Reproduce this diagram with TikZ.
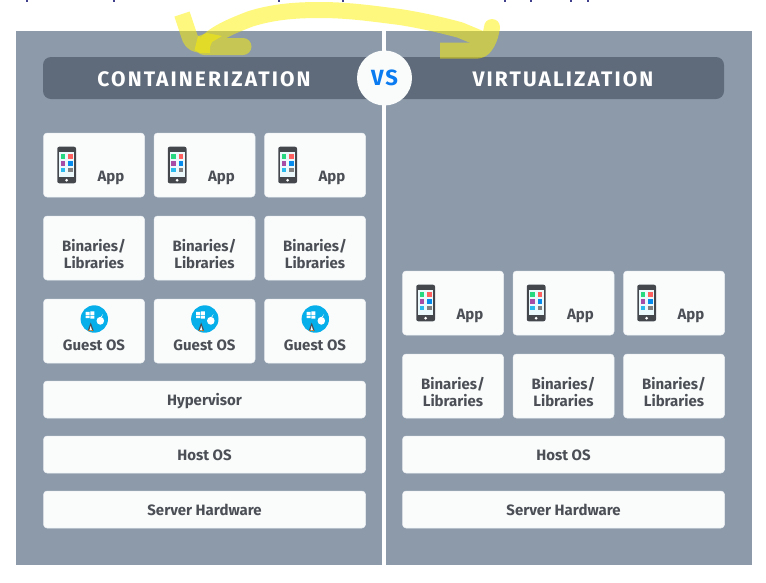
\documentclass[tikz,border=0pt]{standalone}
\usepackage{fontspec}
\setmainfont{Fira Sans}
\definecolor{panel}{HTML}{8C9AAA}
\definecolor{head}{HTML}{5F6B7A}
\definecolor{card}{HTML}{FAFCFC}
\definecolor{ink}{HTML}{4C5056}
\definecolor{vsblue}{HTML}{0A7BF0}
\definecolor{cy}{HTML}{06AEEA}
\newcommand{\dn}[1]{\raisebox{-1.3pt}{#1}}
\tikzset{
  x=1pt,y=-1pt,
  cardbox/.style={fill=card,draw=card!85!panel,line width=.5pt,rounded corners=3.5pt,inner sep=0pt,font=\fontsize{15}{18}\selectfont\bfseries,text=ink,align=center},
  small/.style={cardbox,minimum width=101,minimum height=64},
  wide/.style={cardbox,minimum width=322,minimum height=37,text height=13pt,text depth=1pt},
  lab/.style={inner sep=0pt,font=\fontsize{15}{18}\selectfont\bfseries,text=ink,align=center},
  headtxt/.style={inner sep=0pt,text=white,font=\fontsize{21}{24}\selectfont\bfseries\addfontfeature{LetterSpace=10}},
  phone/.pic={
    \fill[rounded corners=2pt,fill=ink!90!black] (14.3,13.7) rectangle (33,50.3);
    \fill[fill=white!92!cy] (16.3,19) rectangle (31,43.7);
    \fill[fill=green!50!cyan!70!gray] (17.7,21) rectangle (22.3,25.7);
    \fill[fill=red!62!white] (25,21) rectangle (29.5,25.7);
    \fill[fill=violet!70!white] (17.7,27.7) rectangle (22.3,32.7);
    \fill[fill=cy!80!blue] (25,27.7) rectangle (29.5,32.7);
    \fill[fill=cy!85!white] (17.7,34.7) rectangle (22.3,39);
    \fill[fill=gray] (25,34.7) rectangle (29.5,39);
    \fill[white] (23.7,47.2) circle (1.5);
  },
  osicon/.pic={
    \fill[cy] (51.3,20) circle (13.7);
    \fill[white] (42.7,12.9) rectangle (46.6,15.8) (47.4,12.4) rectangle (51.3,15.8)
                 (42.7,16.5) rectangle (46.6,19.2) (47.4,16.5) rectangle (51.3,19.6);
    \fill[white] (57.3,21.8) ellipse (3.8 and 3.9);
    \fill[white] (58,17.8) -- (60,15) -- (58.8,17.8) -- cycle;
    \fill[ink] (47.7,23.5) -- (50.6,31.5) -- (44.8,31.5) -- cycle;
    \fill[white] (47.7,27) -- (49,31.3) -- (46.4,31.3) -- cycle;
    \fill[orange!80!ink] (45.3,31) rectangle (47,32.2) (48.4,31) rectangle (50.1,32.2);
  }
}
\begin{document}
\begin{tikzpicture}
\useasboundingbox (0,0) rectangle (766,582);
% clipped marks on the top edge
\foreach \sx in {26,113,278,342,504,530,570,587}
  \fill[blue!40!black!75] (\sx,0) rectangle ({\sx+1.5},1.5);
% panel
\fill[panel] (16,31) rectangle (752,565);
\fill[white] (382,31) rectangle (386,565);
% header
\node[fill=head,rounded corners=8pt,minimum width=681,minimum height=42,inner sep=0pt] (hd) at (383.5,78) {};
\node[headtxt,anchor=center] (hc) at (204,79) {CONTAINERIZATION};
\node[headtxt,anchor=center] (hv) at (563,79) {VIRTUALIZATION};
\node[circle,fill=card,minimum size=55,inner sep=0pt,text=vsblue,font=\fontsize{22}{24}\selectfont\bfseries\addfontfeature{LetterSpace=9}] (vs) at (384.5,78) {\dn{VS}};
% left stack
\foreach \i/\xa in {1/94,2/204.5,3/315}{
  \node[small] (lapp\i) at (\xa,165) {};
  \pic at ({\xa-51},133) {phone};
  \node[lab] (lappt\i) at ({\xa+17},178) {App};
  \node[small] (lbin\i) at (\xa,248) {};
  \node[lab] (lbint\i) at (\xa,254) {Binaries/\\[-.5pt]Libraries};
  \node[small] (los\i) at (\xa,331) {};
  \pic at ({\xa-51},299) {osicon};
  \node[lab] (lost\i) at (\xa,345.5) {Guest OS};
}
\node[wide] (lhyp) at (204.5,399.5) {Hypervisor};
\node[wide] (lhost) at (204.5,454.5) {Host OS};
\node[wide] (lhw) at (204.5,509.5) {Server Hardware};
% right stack
\foreach \i/\xa in {1/453,2/563.5,3/674}{
  \node[small] (rapp\i) at (\xa,303) {};
  \pic at ({\xa-51},271) {phone};
  \node[lab] (rappt\i) at ({\xa+17},316) {App};
  \node[small] (rbin\i) at (\xa,386) {};
  \node[lab] (rbint\i) at (\xa,392) {Binaries/\\[-.5pt]Libraries};
}
\node[wide] (rhost) at (563.5,454.5) {Host OS};
\node[wide] (rhw) at (563.5,509.5) {Server Hardware};
% yellow marker arrow
\begin{scope}[transparency group,opacity=.5]
  \draw[yellow,line width=16pt,line join=round] (182,14) -- (190,38) .. controls (192,43) and (196,45) .. (204,45);
  \draw[yellow,line width=16pt,line join=round] (204,46) .. controls (212,34) and (232,26) .. (250,19)
     .. controls (275,11) and (300,10) .. (320,10) .. controls (350,10) and (375,14) .. (400,17)
     .. controls (425,21) and (445,26) .. (460,30) -- (484,40);
  \draw[yellow,line width=16pt,line join=round] (440,50.5) -- (478,50.5) .. controls (486,50) and (491,36) .. (492,27);
  \fill[yellow] (492,27) circle (8);
  \draw[yellow,line width=17pt,line cap=round] (204,46.5) -- (243,46.5);
\end{scope}
\fill[yellow,opacity=.5] (194.5,50) -- (198,36) -- (207,33) -- (222,36) -- (212,42) -- (210,47) -- (210,53) -- (200,53) -- cycle;
\end{tikzpicture}
\end{document}
